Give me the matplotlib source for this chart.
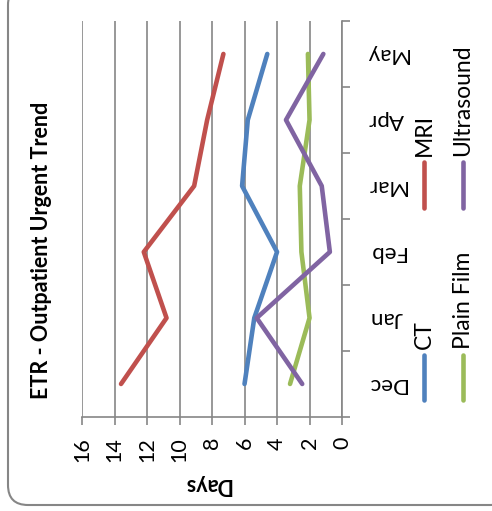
import matplotlib
matplotlib.use("Agg")
import matplotlib.pyplot as plt
from matplotlib.lines import Line2D
from matplotlib.patches import FancyBboxPatch
import numpy as np

plt.rcParams['font.family'] = ['Lato', 'DejaVu Sans']

months = ["Dec", "Jan", "Feb", "Mar", "Apr", "May"]
mri = [13.6, 10.8, 12.2, 9.1, 8.3, 7.3]
ct = [6.0, 5.4, 4.0, 6.15, 5.8, 4.6]
plain_film = [3.2, 2.0, 2.5, 2.6, 2.0, 2.1]
ultrasound = [2.45, 5.25, 0.75, 1.25, 3.45, 1.15]
day_ticks = [0, 2, 4, 6, 8, 10, 12, 14, 16]

series = [("CT", ct, "#4F81BD"), ("MRI", mri, "#C0504D"),
          ("Plain Film", plain_film, "#9BBB59"), ("Ultrasound", ultrasound, "#8064A2")]
grey = "#868686"

fig = plt.figure(figsize=(4.92, 5.11), dpi=100)

# rounded frame around the whole chart
frame = FancyBboxPatch((0.08, 0.06), 5.02, 5.2, boxstyle="round,pad=0,rounding_size=0.2",
                       transform=fig.dpi_scale_trans, facecolor="white", edgecolor=grey,
                       linewidth=1.5, zorder=-10)
fig.patches.append(frame)

ax = fig.add_axes([0.1667, 0.184, 0.5285, 0.775])
ax.set_facecolor("none")

y = np.arange(len(months))
for name, vals, col in series:
    ax.plot(vals, y, color=col, lw=3.3, solid_capstyle="round", solid_joinstyle="round", zorder=3)

ax.set_xlim(16, 0)
ax.set_ylim(-0.5, len(months) - 0.5)

ax.set_xticks(day_ticks)
ax.set_xticklabels([str(d) for d in day_ticks], rotation=90, fontsize=15.5)
ax.tick_params(axis="x", length=5.5, color=grey, width=1.2, pad=9)
ax.grid(axis="x", color=grey, lw=1.2, zorder=0)

ax.yaxis.tick_right()
ax.set_yticks(y)
ax.set_yticklabels(months, rotation=180, fontsize=16, va="center", ha="center")
ax.set_yticks(np.arange(-0.5, len(months)), minor=True)
ax.tick_params(axis="y", which="major", length=0, pad=32)
ax.tick_params(axis="y", which="minor", length=5.5, color=grey, width=1.2)

for side in ["top", "left"]:
    ax.spines[side].set_visible(False)
for side in ["bottom", "right"]:
    ax.spines[side].set_color(grey)
    ax.spines[side].set_linewidth(1.2)

fig.text(207 / 492, 1 - 484 / 511, "Days", rotation=180, fontsize=15.5, fontweight="bold",
         ha="center", va="center")
fig.text(42 / 492, 1 - 250 / 511, "ETR - Outpatient Urgent Trend", rotation=90, fontsize=15.5,
         fontweight="bold", ha="center", va="center")

# legend: short vertical strokes with labels running upward
legend_pos = {"CT": (424, 400, 355), "MRI": (424, 208, 162),
              "Plain Film": (463, 400, 355), "Ultrasound": (463, 208, 162)}
for name, vals, col in series:
    lx, y0, y1 = legend_pos[name]
    fig.add_artist(Line2D([lx / 492, lx / 492], [1 - y0 / 511, 1 - y1 / 511], color=col,
                          lw=3.3, solid_capstyle="round", transform=fig.transFigure))
    fig.text(lx / 492, 1 - (y1 - 6) / 511, name, rotation=90, fontsize=16.5,
             ha="center", va="bottom")

fig.savefig("out.png", dpi=100)
